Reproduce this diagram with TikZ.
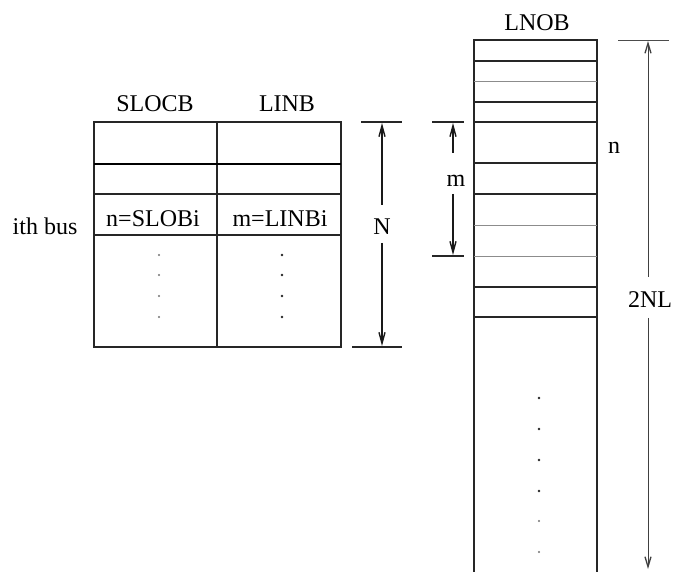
\documentclass[tikz,border=0pt]{standalone}
\usepackage{fontspec}
\setmainfont{Liberation Serif}
\usetikzlibrary{arrows.meta}
\begin{document}
\begin{tikzpicture}[x=1pt,y=-1pt,
  lbl/.style={font=\fontsize{24}{26}\selectfont, inner sep=0pt, anchor=base},
  outline/.style={line width=1.4pt, draw=black!85},
  heavy/.style={line width=2.8pt, draw=black},
  light/.style={line width=0.9pt, draw=black!45},
  dimline/.style={line width=1.3pt, draw=black!85},
  dimarrow/.style={line width=1.6pt, draw=black!90, -{Straight Barb[length=11pt,width=6pt,line width=1.4pt]}},
  thinarrow/.style={line width=1.0pt, draw=black!75, -{Straight Barb[length=10pt,width=6pt,line width=1.3pt]}},
  dotmark/.style={fill=black!85, draw=none}]
\useasboundingbox (0,0) rectangle (681,572);
\fill[white] (0,0) rectangle (681,572);

% ---------- left table ----------
\draw[outline] (94,122) rectangle (341,347);
\draw[outline] (217,122) -- (217,347);
\draw[heavy] (94,164) -- (341,164);
\draw[outline] (94,194) -- (341,194);
\draw[outline] (94,235) -- (341,235);

\node[lbl] (slocb) at (155,112) {SLOCB};
\node[lbl] (linb) at (287,112) {LINB};
\node[lbl] (nslob) at (153,227) {n=SLOBi};
\node[lbl] (mlinb) at (280,227) {m=LINBi};
\node[lbl] (ith) at (45,235) {ith bus};

\foreach \y in {255,275,296,317}{
  \fill[dotmark, black!55] (159,\y) circle (1.1);
  \fill[dotmark] (282,\y) circle (1.4);
}

% ---------- N dimension ----------
\coordinate (NtA) at (361,122); \coordinate (NtB) at (402,122);
\coordinate (NbA) at (352,347); \coordinate (NbB) at (402,347);
\draw[dimline] (NtA) -- (NtB);
\draw[dimline] (NbA) -- (NbB);
\node[lbl] (N) at (382,235) {N};
\coordinate (Nu1) at (382,205); \coordinate (Nu2) at (382,123);
\coordinate (Nd1) at (382,243); \coordinate (Nd2) at (382,346);
\draw[dimarrow] (Nu1) -- (Nu2);
\draw[dimarrow] (Nd1) -- (Nd2);

% ---------- right column ----------
\node[lbl] (lnob) at (537,31) {LNOB};
\draw[outline] (474,572) -- (474,40) -- (597,40) -- (597,572);
\foreach \y in {61,102,122,163,194,287,317}{
  \draw[outline] (474,\y) -- (597,\y);
}
\foreach \y in {81,225,256}{
  \draw[light] (474,\y) -- (597,\y);
}
\foreach \y in {398,429,460,491}{
  \fill[dotmark] (539,\y) circle (1.4);
}
\foreach \y in {521,552}{
  \fill[dotmark, black!55] (539,\y) circle (1.1);
}

\node[lbl] (n) at (614,154) {n};

% ---------- m dimension ----------
\coordinate (mtA) at (432,122); \coordinate (mtB) at (464,122);
\coordinate (mbA) at (432,256); \coordinate (mbB) at (464,256);
\draw[dimline] (mtA) -- (mtB);
\draw[dimline] (mbA) -- (mbB);
\node[lbl] (m) at (456,187) {m};
\coordinate (mu1) at (453,153); \coordinate (mu2) at (453,123);
\coordinate (md1) at (453,194); \coordinate (md2) at (453,255);
\draw[dimarrow] (mu1) -- (mu2);
\draw[dimarrow] (md1) -- (md2);

% ---------- 2NL dimension ----------
\coordinate (LtA) at (618,40); \coordinate (LtB) at (669,40);
\draw[light, draw=black!70] (LtA) -- (LtB);
\node[lbl] (twoNL) at (650,308) {2NL};
\coordinate (Lu1) at (648,277); \coordinate (Lu2) at (648,41);
\coordinate (Ld1) at (648,318); \coordinate (Ld2) at (648,569);
\draw[thinarrow] (Lu1) -- (Lu2);
\draw[thinarrow] (Ld1) -- (Ld2);
\end{tikzpicture}
\end{document}
